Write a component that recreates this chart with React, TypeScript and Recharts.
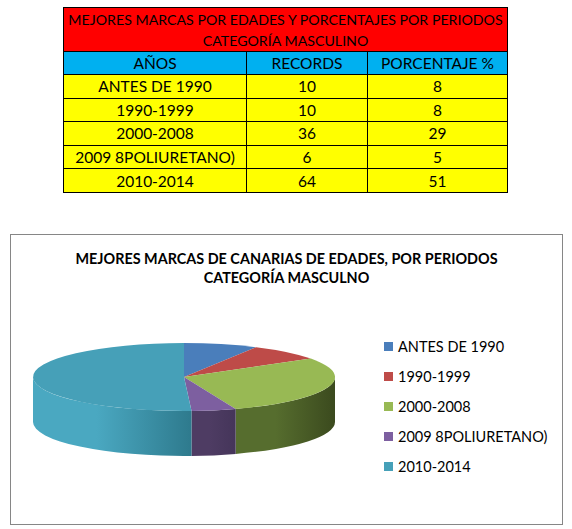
import { PieChart, Pie, Cell, Legend } from 'recharts';

// MEJORES MARCAS — records por periodos, categoría masculino
const periods = ['ANTES DE 1990', '1990-1999', '2000-2008', '2009 8POLIURETANO)', '2010-2014'];
const records = [10, 10, 36, 6, 64];
const percents = [8, 8, 29, 5, 51];

const topColors = ['#4A7EBB', '#BE4B48', '#98B954', '#7D5FA0', '#46A0B8'];
const sideLight = ['#3B6496', '#983B39', '#566D2E', '#4E3C63', '#4AA8C1'];
const sideDark = ['#2E4F78', '#7A2F2D', '#3B4A1E', '#45355A', '#2E7A8D'];

const pieData = periods.map((name, i) => ({ name, value: records[i] }));

const TILT = 0.225;
const DEPTH = 45;
const RAD = Math.PI / 180;
const FONT = 'Lato, "Open Sans", sans-serif';

// draws one slice as a tilted disc piece: top face plus the visible front wall
function Slice3D(props: any) {
  const { cx, cy, outerRadius, startAngle, endAngle, fill } = props;
  const name = props.payload?.name ?? props.name;
  const i = Math.max(0, periods.indexOf(name));
  const rx = outerRadius;
  const ry = outerRadius * TILT;
  const pt = (a: number, dy = 0) =>
    `${cx + rx * Math.cos(a * RAD)},${cy - ry * Math.sin(a * RAD) + dy}`;

  const hi = Math.max(startAngle, endAngle);
  const lo = Math.min(startAngle, endAngle);
  const large = hi - lo > 180 ? 1 : 0;
  const top = `M${cx},${cy} L${pt(hi)} A${rx},${ry} 0 ${large} 1 ${pt(lo)} Z`;

  const a2 = Math.min(hi, 0);
  const a1 = Math.max(lo, -180);
  let side = '';
  if (a2 > a1) {
    side =
      `M${pt(a2)} A${rx},${ry} 0 0 1 ${pt(a1)} ` +
      `L${pt(a1, DEPTH)} A${rx},${ry} 0 0 0 ${pt(a2, DEPTH)} Z`;
  }
  const gid = `side-grad-${i}`;
  return (
    <g>
      <defs>
        <linearGradient id={gid} x1="0" y1="0" x2="1" y2="0">
          <stop offset="0%" stopColor={sideLight[i]} />
          <stop offset="40%" stopColor={sideLight[i]} />
          <stop offset="100%" stopColor={sideDark[i]} />
        </linearGradient>
      </defs>
      {side && <path d={side} fill={`url(#${gid})`} stroke="none" />}
      <path d={top} fill={fill} stroke="none" />
    </g>
  );
}

function LegendList(props: any) {
  const items = [...(props.payload ?? [])].sort(
    (a: any, b: any) => periods.indexOf(a.value) - periods.indexOf(b.value)
  );
  return (
    <ul style={{ listStyle: 'none', margin: 0, padding: 0, fontFamily: FONT, fontSize: 14.5, color: '#000' }}>
      {items.map((it: any) => (
        <li key={it.value} style={{ height: 30, display: 'flex', alignItems: 'center' }}>
          <span style={{ width: 9, height: 9, background: it.color, marginRight: 5, display: 'inline-block' }} />
          {it.value}
        </li>
      ))}
    </ul>
  );
}

const cell = (bg: string, extra: any = {}) => ({
  background: bg,
  border: '1px solid #000',
  textAlign: 'center' as const,
  padding: 0,
  whiteSpace: 'nowrap' as const,
  ...extra,
});

export default function App() {
  return (
    <div style={{ position: 'absolute', left: 0, top: 0, width: 572, height: 529, background: '#fff' }}>
      <table
        style={{
          position: 'absolute', left: 63, top: 7, width: 444, borderCollapse: 'collapse',
          fontFamily: FONT, fontSize: 15.5, color: '#000', tableLayout: 'fixed',
        }}
      >
        <colgroup>
          <col style={{ width: 183 }} />
          <col style={{ width: 121 }} />
          <col style={{ width: 140 }} />
        </colgroup>
        <tbody>
          <tr style={{ height: 44 }}>
            <td colSpan={3} style={cell('#FF0000', { lineHeight: '21px', fontSize: 14.2 })}>
              MEJORES MARCAS POR EDADES Y PORCENTAJES POR PERIODOS<br />CATEGORÍA MASCULINO
            </td>
          </tr>
          <tr style={{ height: 23 }}>
            <td style={cell('#00B0F0')}>AÑOS</td>
            <td style={cell('#00B0F0')}>RECORDS</td>
            <td style={cell('#00B0F0')}>PORCENTAJE %</td>
          </tr>
          {periods.map((p, i) => (
            <tr key={p} style={{ height: 23.6 }}>
              <td style={cell('#FFFF00')}>{p}</td>
              <td style={cell('#FFFF00')}>{records[i]}</td>
              <td style={cell('#FFFF00')}>{percents[i]}</td>
            </tr>
          ))}
        </tbody>
      </table>

      <div
        style={{
          position: 'absolute', left: 10, top: 234, width: 551, height: 289,
          border: '1px solid #868686', background: '#fff',
        }}
      >
        <div
          style={{
            position: 'absolute', left: 0, top: 14, width: 551, textAlign: 'center',
            fontFamily: FONT, fontWeight: 'bold', fontSize: 14.4, lineHeight: '19px', color: '#000',
          }}
        >
          MEJORES MARCAS DE CANARIAS DE EDADES, POR PERIODOS<br />CATEGORÍA MASCULNO
        </div>
        <PieChart
          width={551}
          height={289}
          margin={{ top: 0, right: 0, bottom: 0, left: 0 }}
          style={{ position: 'absolute', left: 0, top: 0 }}
        >
          <Pie
            data={pieData}
            dataKey="value"
            nameKey="name"
            cx={173}
            cy={142}
            outerRadius={151}
            startAngle={90}
            endAngle={-270}
            stroke="none"
            isAnimationActive={false}
            shape={Slice3D}
            activeShape={Slice3D}
            inactiveShape={Slice3D}
          >
            {pieData.map((d, i) => (
              <Cell key={d.name} fill={topColors[i]} />
            ))}
          </Pie>
          <Legend
            layout="vertical"
            align="right"
            verticalAlign="top"
            content={LegendList}
            wrapperStyle={{ position: 'absolute', left: 373, top: 96, width: 175 }}
          />
        </PieChart>
      </div>
    </div>
  );
}
